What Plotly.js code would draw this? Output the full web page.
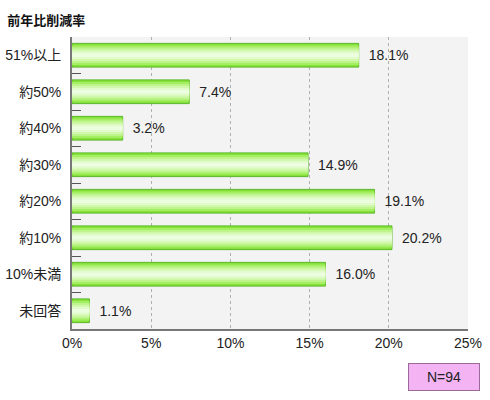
<!DOCTYPE html>
<html>
<head>
<meta charset="utf-8">
<script src="https://cdn.plot.ly/plotly-3.0.1.min.js"></script>
<style>
  body { margin: 0; background: #fff; }
  #chart { width: 490px; height: 400px; }
</style>
</head>
<body>
<div id="chart"></div>
<script>
var categories = ['51%以上', '約50%', '約40%', '約30%', '約20%', '約10%', '10%未満', '未回答'];
var values = [18.1, 7.4, 3.2, 14.9, 19.1, 20.2, 16.0, 1.1];
var xTicks = [0, 5, 10, 15, 20, 25];
var xTickLabels = ['0%', '5%', '10%', '15%', '20%', '25%'];

var font = '"Liberation Sans", "Noto Sans CJK JP", sans-serif';

// fake the vertical gradient by stacking thinner, lighter bars on top
var layers = [
  {w: 0.65, c: '#86e23a', line: '#5cb82a'},
  {w: 0.54, c: '#a4ee62'},
  {w: 0.43, c: '#bef48c'},
  {w: 0.32, c: '#d2f8ae'},
  {w: 0.21, c: '#e2fbcc'},
  {w: 0.10, c: '#ecfde0'}
];

var traces = layers.map(function(l, i) {
  var t = {
    type: 'bar',
    orientation: 'h',
    y: categories,
    x: values,
    width: l.w,
    marker: {color: l.c, line: {width: i === 0 ? 1 : 0, color: l.line || l.c}},
    hoverinfo: 'skip',
    showlegend: false
  };
  if (i === 0) {
    t.text = values.map(function(v) { return '\u2002' + v.toFixed(1) + '%'; });
    t.textposition = 'outside';
    t.cliponaxis = false;
    t.textfont = {size: 14, color: '#222', family: font};
  }
  return t;
});

var layout = {
  width: 490,
  height: 400,
  margin: {l: 72, r: 22, t: 37, b: 71},
  paper_bgcolor: '#ffffff',
  plot_bgcolor: '#f3f3f3',
  barmode: 'overlay',
  font: {family: font, size: 14, color: '#222'},
  title: {
    text: '<b>前年比削減率</b>',
    x: 0.015, xanchor: 'left', y: 0.95, yanchor: 'middle',
    font: {size: 13, color: '#111', family: font}
  },
  xaxis: {
    range: [0, 25],
    tickvals: xTicks,
    ticktext: xTickLabels,
    showgrid: true,
    gridcolor: '#b0b0b0',
    griddash: '3px,3px',
    gridwidth: 1,
    zeroline: false,
    showline: true,
    linecolor: '#777777',
    linewidth: 2,
    ticks: '',
    tickfont: {size: 14, color: '#222'},
    fixedrange: true
  },
  yaxis: {
    autorange: 'reversed',
    showgrid: false,
    showline: true,
    linecolor: '#777777',
    linewidth: 2,
    ticks: 'inside',
    tickson: 'boundaries',
    ticklen: 9,
    tickcolor: '#555555',
    tickwidth: 1,
    ticklabelstandoff: 6,
    tickfont: {size: 14, color: '#222'},
    fixedrange: true
  },
  annotations: [{
    xref: 'paper', yref: 'paper',
    x: 1.03, y: -0.165,
    xanchor: 'right', yanchor: 'middle',
    text: 'N=94',
    showarrow: false,
    bgcolor: '#f4b4f4',
    bordercolor: '#9a6a9a',
    borderwidth: 1,
    borderpad: 5,
    width: 60,
    font: {size: 14, color: '#222'}
  }]
};

Plotly.newPlot('chart', traces, layout, {displayModeBar: false, staticPlot: true});
</script>
</body>
</html>
